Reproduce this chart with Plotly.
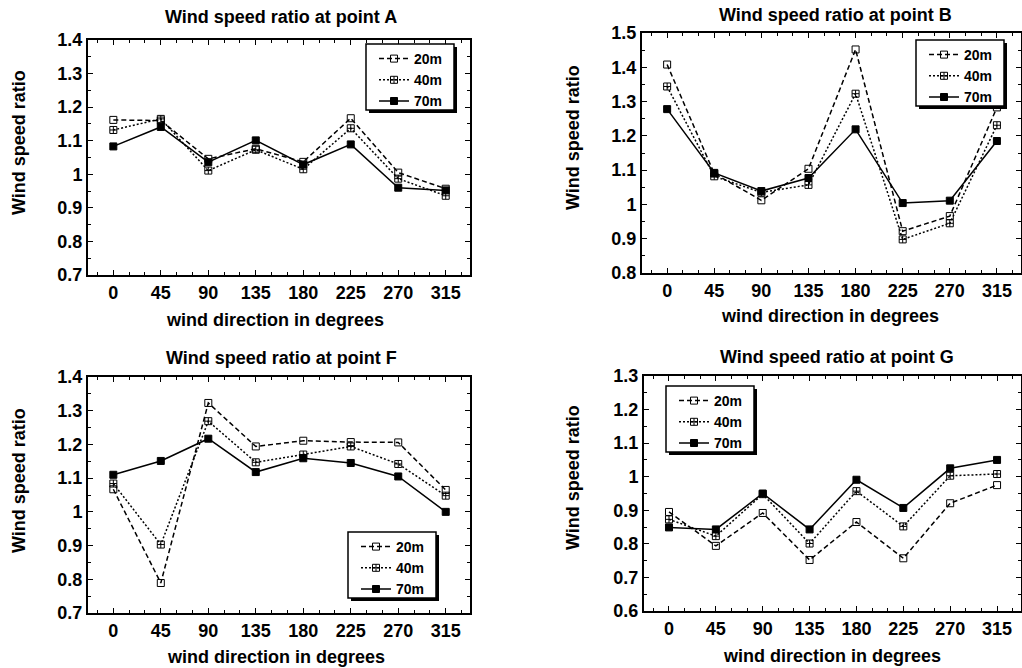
import plotly.graph_objects as go

directions = [0, 45, 90, 135, 180, 225, 270, 315]
heights = ["20m", "40m", "70m"]

A_20 = [1.162, 1.160, 1.046, 1.076, 1.037, 1.167, 1.005, 0.957]
A_40 = [1.132, 1.165, 1.011, 1.073, 1.015, 1.137, 0.987, 0.936]
A_70 = [1.083, 1.141, 1.036, 1.101, 1.029, 1.089, 0.960, 0.952]

B_20 = [1.408, 1.090, 1.012, 1.104, 1.452, 0.922, 0.966, 1.283]
B_40 = [1.344, 1.082, 1.035, 1.057, 1.323, 0.898, 0.945, 1.231]
B_70 = [1.278, 1.092, 1.039, 1.077, 1.219, 1.004, 1.011, 1.185]

F_20 = [1.067, 0.789, 1.323, 1.194, 1.211, 1.207, 1.206, 1.065]
F_40 = [1.084, 0.903, 1.269, 1.147, 1.170, 1.194, 1.142, 1.048]
F_70 = [1.110, 1.151, 1.217, 1.118, 1.159, 1.145, 1.105, 1.000]

G_20 = [0.895, 0.794, 0.892, 0.752, 0.865, 0.757, 0.921, 0.975]
G_40 = [0.873, 0.823, 0.948, 0.801, 0.957, 0.852, 1.003, 1.008]
G_70 = [0.849, 0.843, 0.950, 0.843, 0.991, 0.907, 1.025, 1.050]

titles = ["Wind speed ratio at point A", "Wind speed ratio at point B",
          "Wind speed ratio at point F", "Wind speed ratio at point G"]
y_ranges = [(0.7, 1.4), (0.8, 1.5), (0.7, 1.4), (0.6, 1.3)]

W, H = 1022, 668
FONT = "Liberation Sans"

def px(x):
    return x / W

def py(y):
    return 1 - y / H

panels = [
    dict(data=[A_20, A_40, A_70], xd=(88, 470), yd=(40, 275),
         title=(281, 17), xt=(275, 320), yt=(19, 143), leg=(366, 44)),
    dict(data=[B_20, B_40, B_70], xd=(642, 1021), yd=(33, 273),
         title=(835, 15), xt=(830, 316), yt=(573, 138), leg=(916, 40)),
    dict(data=[F_20, F_40, F_70], xd=(88, 470), yd=(377, 613),
         title=(281, 358), xt=(276, 657), yt=(19, 481), leg=(348, 532)),
    dict(data=[G_20, G_40, G_70], xd=(644, 1021), yd=(376, 611),
         title=(837, 357), xt=(832, 656), yt=(573, 478), leg=(666, 386)),
]

styles = [
    dict(dash="5px,3px", symbol="square-open"),
    dict(dash="2px,2px", symbol="square-cross-open"),
    dict(dash="solid", symbol="square"),
]

BOX_W, BOX_H, SHADOW = 88, 66, 3

fig = go.Figure()
layout = dict(width=W, height=H,
              margin=dict(l=0, r=0, t=0, b=0, pad=0, autoexpand=False),
              paper_bgcolor="white", plot_bgcolor="white", showlegend=True,
              font=dict(family=FONT, color="black"), annotations=[], shapes=[])

for i, p in enumerate(panels):
    n = "" if i == 0 else str(i + 1)
    legname = "legend" if i == 0 else f"legend{i + 1}"
    for j, vals in enumerate(p["data"]):
        st = styles[j]
        fig.add_trace(go.Scatter(
            x=directions, y=vals, name=heights[j], mode="lines+markers",
            xaxis="x" + n, yaxis="y" + n, legend=legname,
            line=dict(color="black", width=1.5, dash=st["dash"]),
            marker=dict(symbol=st["symbol"], size=7, color="black",
                        line=dict(color="black", width=1)),
        ))
    axcommon = dict(showline=True, linecolor="black", linewidth=2, mirror="ticks",
                    ticks="inside", ticklen=5, tickcolor="black", showgrid=False,
                    zeroline=False, automargin=False,
                    tickfont=dict(family=FONT, size=18, color="black", weight="bold"))
    layout["xaxis" + n] = dict(axcommon, domain=[px(p["xd"][0]), px(p["xd"][1])],
                               anchor="y" + n, range=[-24, 338],
                               tickvals=directions,
                               minor=dict(ticks="inside", ticklen=3, dtick=15,
                                          tickcolor="black", tick0=0))
    lo, hi = y_ranges[i]
    layout["yaxis" + n] = dict(axcommon, domain=[py(p["yd"][1]), py(p["yd"][0])],
                               anchor="x" + n, range=[lo, hi], dtick=0.1, tick0=0,
                               minor=dict(ticks="inside", ticklen=3, dtick=0.05,
                                          tickcolor="black"))
    lx, ly = p["leg"]
    layout[legname] = dict(x=px(lx + 8), y=py(ly - 1),
                           xanchor="left", yanchor="top",
                           bgcolor="rgba(0,0,0,0)", borderwidth=0,
                           font=dict(family=FONT, size=14, color="black", weight="bold"),
                           tracegroupgap=0, itemwidth=30)
    layout["shapes"] += [
        dict(type="rect", xref="paper", yref="paper", layer="above",
             x0=px(lx + SHADOW), x1=px(lx + BOX_W + SHADOW),
             y0=py(ly + BOX_H + SHADOW), y1=py(ly + SHADOW),
             fillcolor="black", line=dict(width=0)),
        dict(type="rect", xref="paper", yref="paper", layer="above",
             x0=px(lx), x1=px(lx + BOX_W), y0=py(ly + BOX_H), y1=py(ly),
             fillcolor="white", line=dict(color="black", width=1.5)),
    ]
    layout["annotations"] += [
        dict(text=titles[i], x=px(p["title"][0]), y=py(p["title"][1]),
             xref="paper", yref="paper", showarrow=False,
             xanchor="center", yanchor="middle",
             font=dict(family=FONT, size=18, weight="bold")),
        dict(text="wind direction in degrees", x=px(p["xt"][0]), y=py(p["xt"][1]),
             xref="paper", yref="paper", showarrow=False,
             xanchor="center", yanchor="middle",
             font=dict(family=FONT, size=18, weight="bold")),
        dict(text="Wind speed ratio", x=px(p["yt"][0]), y=py(p["yt"][1]),
             xref="paper", yref="paper", showarrow=False, textangle=-90,
             xanchor="center", yanchor="middle",
             font=dict(family=FONT, size=18, weight="bold")),
    ]

fig.update_layout(**layout)
fig.write_html("out.html", config={"displayModeBar": False},
               post_script="document.body.style.margin='0';")
